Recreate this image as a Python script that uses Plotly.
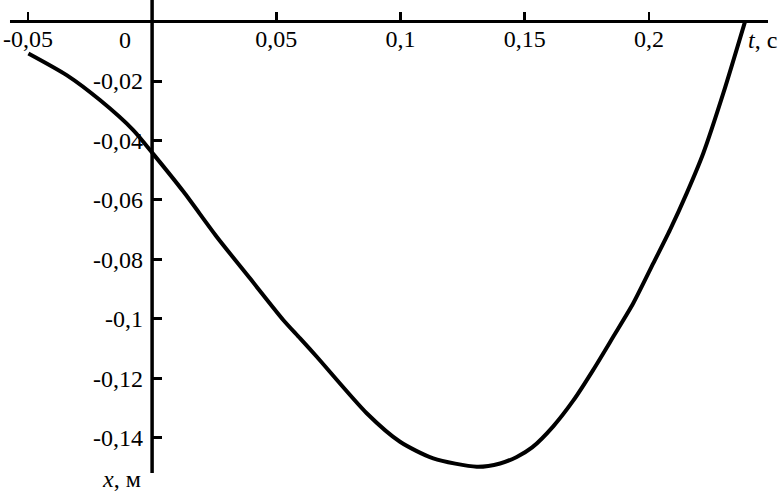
import plotly.graph_objects as go

# Daten (t in s, x in m)
t_werte = [-0.0498, -0.0344, -0.0210, -0.0076, 0.0005, 0.0126, 0.0260, 0.0394,
           0.0528, 0.0596, 0.0663, 0.0864, 0.0998, 0.1132, 0.1307, 0.1401,
           0.1468, 0.1530, 0.1615, 0.1696, 0.1776, 0.1857, 0.1937, 0.2018,
           0.2085, 0.2152, 0.2219, 0.2300, 0.2387]
x_werte = [-0.0107, -0.0180, -0.0264, -0.0365, -0.0446, -0.0572, -0.0724, -0.0864,
           -0.1004, -0.1066, -0.1128, -0.1318, -0.1414, -0.1470, -0.1498, -0.1487,
           -0.1465, -0.1433, -0.1362, -0.1275, -0.1172, -0.1060, -0.0948, -0.0813,
           -0.0701, -0.0578, -0.0443, -0.0240, 0.0]

t_ticks = [-0.05, 0.05, 0.1, 0.15, 0.2]
t_labels = ["-0,05", "0,05", "0,1", "0,15", "0,2"]
x_ticks = [-0.02, -0.04, -0.06, -0.08, -0.1, -0.12, -0.14]
x_labels = ["-0,02", "-0,04", "-0,06", "-0,08", "-0,1", "-0,12", "-0,14"]

schrift = dict(family="Liberation Serif, DejaVu Serif, Times New Roman, serif",
               size=24, color="black")

fig = go.Figure()

fig.add_trace(go.Scatter(
    x=t_werte,
    y=x_werte,
    mode="lines",
    line=dict(color="black", width=4, shape="spline", smoothing=0.7),
    showlegend=False,
    hoverinfo="skip"
))

# Achsenlinien durch den Nullpunkt
fig.add_shape(type="line", xref="x", yref="y",
              x0=-0.05721, x1=0.24795, y0=0, y1=0,
              line=dict(color="black", width=3))
fig.add_shape(type="line", xref="x", yref="y",
              x0=0, x1=0, y0=0.00727, y1=-0.15191,
              line=dict(color="black", width=3.5))

fig.update_layout(
    width=780, height=494,
    margin=dict(l=0, r=0, t=0, b=0, pad=0),
    paper_bgcolor="white",
    plot_bgcolor="white",
    font=schrift,
    xaxis=dict(
        domain=[0, 1],
        range=[-0.06123, 0.25278],
        anchor="free",
        position=0.95628,
        side="top",
        showline=False,
        ticks="outside", ticklen=10, tickwidth=2.5, tickcolor="black",
        ticklabelposition="inside",
        ticklabelstandoff=5,
        tickvals=t_ticks, ticktext=t_labels,
        showgrid=False, zeroline=False, automargin=False,
        tickfont=schrift
    ),
    yaxis=dict(
        domain=[0, 1],
        range=[-0.15898, 0.00727],
        anchor="free",
        position=0.19500,
        side="left",
        showline=False,
        ticks="inside", ticklen=9, tickwidth=3, tickcolor="black",
        ticklabelstandoff=9,
        tickvals=x_ticks, ticktext=x_labels,
        showgrid=False, zeroline=False, automargin=False,
        tickfont=schrift
    ),
)

# Beschriftungen in Pixelkoordinaten (links oben = 0, 0)
beschriftungen = [
    ("0", 125, 40, "center"),
    ("<i>t</i>, c", 779, 40, "right"),
    ("<i>x</i>, м", 121, 479, "center"),
]
for text, px, py, anker in beschriftungen:
    fig.add_annotation(
        text=text, showarrow=False,
        xref="paper", yref="paper",
        x=px / 780, y=1 - py / 494,
        xanchor=anker, yanchor="middle",
        font=schrift
    )

# Standardrand des Browsers entfernen, damit die Grafik bei (0, 0) beginnt
fig.write_html("out.html",
               config={"displayModeBar": False, "staticPlot": True},
               post_script="document.body.style.margin = '0';")
